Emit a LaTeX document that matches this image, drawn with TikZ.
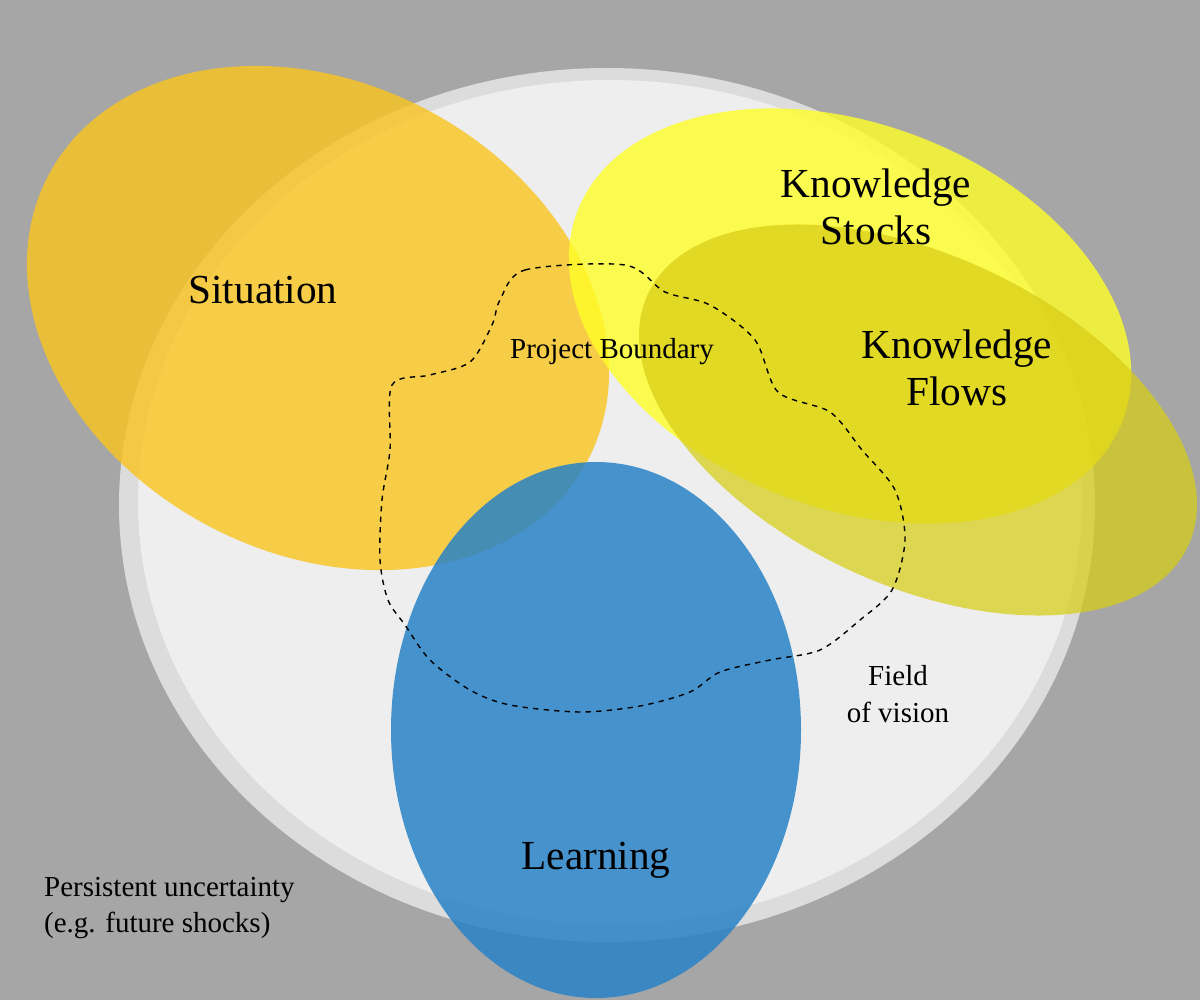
\documentclass[tikz,border=0pt]{standalone}
\usepackage{fontspec}
\setmainfont{Liberation Serif}
\begin{document}
\begin{tikzpicture}[x=0.02cm,y=-0.02cm,
  lbl/.style={font=\fontsize{23.5}{27}\selectfont,align=center},
  sml/.style={font=\fontsize{16.5}{21}\selectfont,align=center}]
\useasboundingbox (0,0) rectangle (1200,1000);
\fill[fill={rgb,255:red,166;green,166;blue,166}] (0,0) rectangle (1200,1000);
\fill[fill={rgb,255:red,220;green,220;blue,220}] (607,505) ellipse [x radius=488, y radius=437];
\fill[fill={rgb,255:red,238;green,238;blue,238}] (610,502) ellipse [x radius=472, y radius=422];
\fill[fill={rgb,255:red,250;green,196;blue,30},opacity=0.8] (318,318) ellipse [x radius=305, y radius=235, rotate=-28];
\fill[fill={rgb,255:red,255;green,255;blue,40},opacity=0.8] (850,316) ellipse [x radius=292, y radius=192, rotate=-21];
\fill[fill={rgb,255:red,215;green,205;blue,20},opacity=0.72] (918,420) ellipse [x radius=298, y radius=165, rotate=-25];
\fill[fill={rgb,255:red,40;green,130;blue,200},opacity=0.85] (596,730) ellipse [x radius=205, y radius=268];
\draw[dashed,thick] plot[smooth cycle,tension=0.5] coordinates {(500,300) (525,270) (625,265) (665,292) (710,305) (755,340) (778,392) (830,412) (862,450) (895,490) (905,540) (892,590) (860,620) (820,650) (770,660) (720,672) (690,692) (640,706) (580,712) (510,705) (470,690) (430,660) (405,625) (388,600) (380,560) (382,500) (390,450) (392,385) (430,375) (470,362) (492,325)};
\node[lbl] (sit) at (263,290) {Situation};
\node[lbl] (ks) at (876,207) {Knowledge\\Stocks};
\node[lbl] (kf) at (957,368) {Knowledge\\Flows};
\node[lbl] (lrn) at (596,860) {Learning};
\node[sml] (pb) at (612,352) {Project Boundary};
\node[sml] (fov) at (898,694) {Field\\of vision};
\node[sml,align=left,anchor=west] (pu) at (38,908) {Persistent uncertainty\\(e.g. future shocks)};
\end{tikzpicture}
\end{document}
